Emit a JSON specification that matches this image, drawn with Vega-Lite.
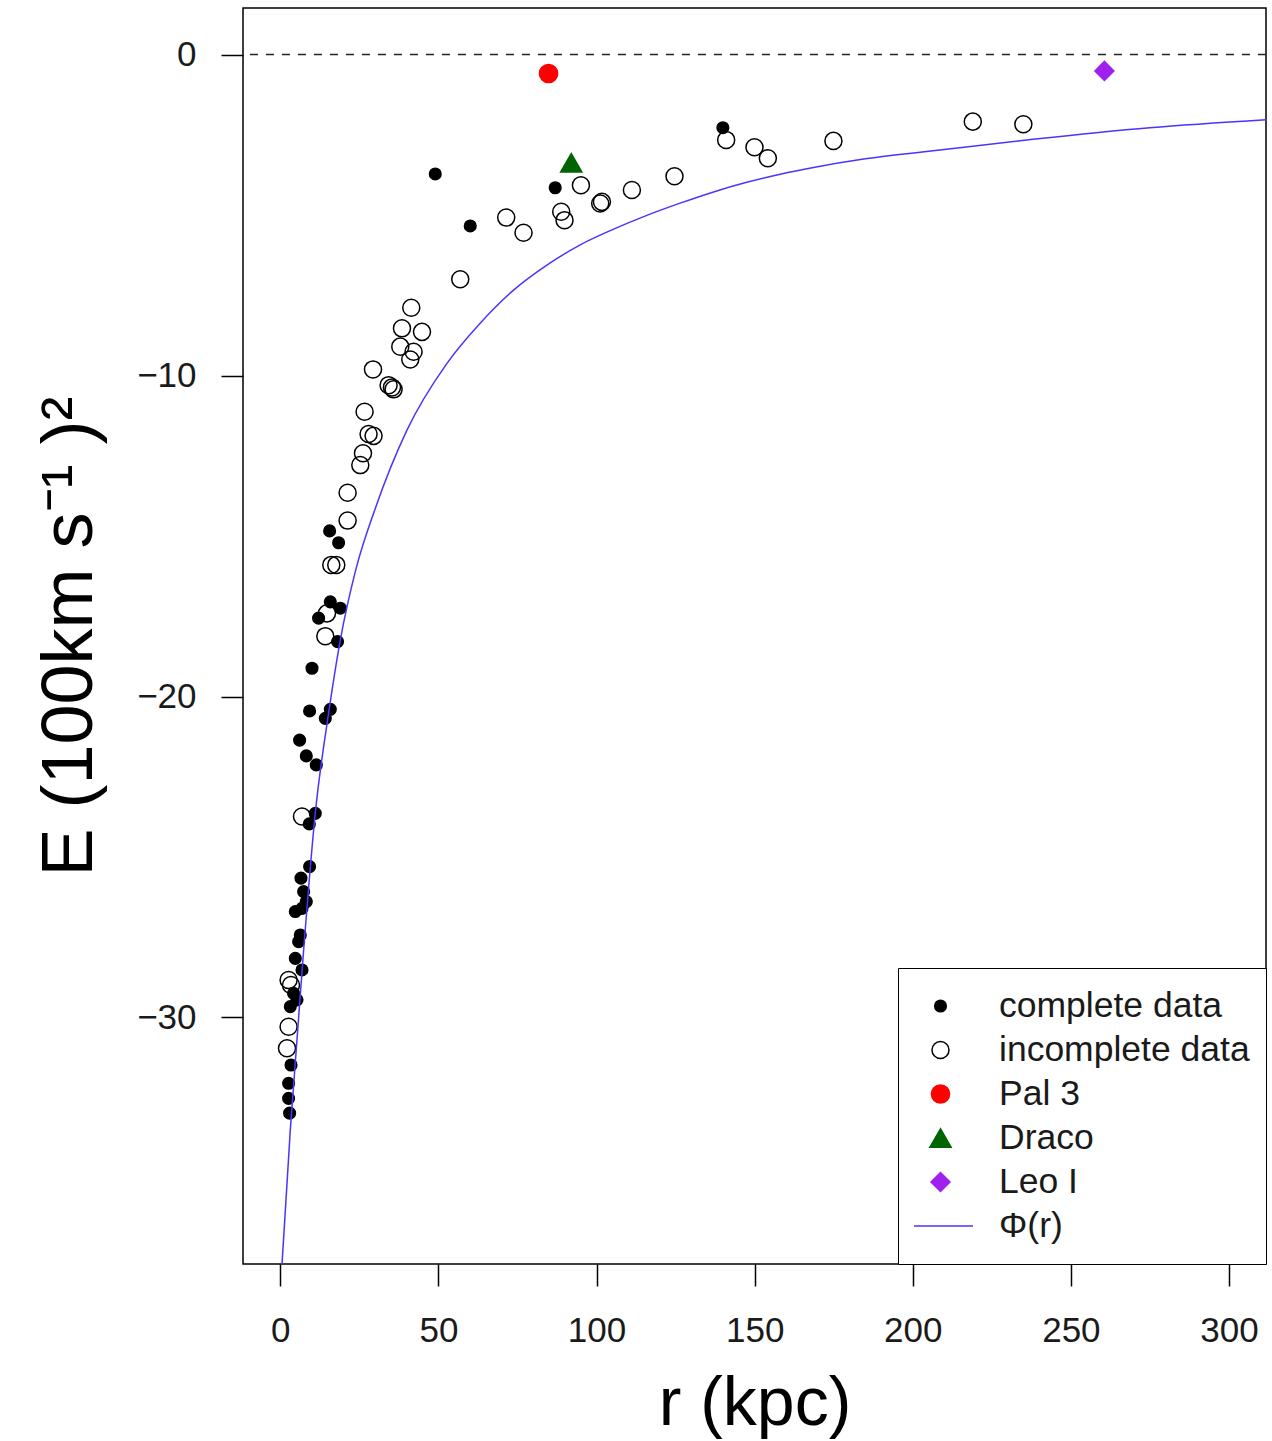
{
  "$schema": "https://vega.github.io/schema/vega-lite/v6.json",
  "autosize": "none",
  "width": 1023,
  "height": 1256,
  "padding": {"left": 243, "top": 8, "right": 6, "bottom": 177},
  "background": "white",
  "config": {
    "view": {"stroke": "black", "strokeWidth": 1.5},
    "font": "Liberation Sans",
    "axis": {
      "grid": false,
      "domain": false,
      "tickColor": "black",
      "tickWidth": 1.5,
      "tickSize": 22,
      "labelFont": "Liberation Sans",
      "labelFontSize": 35,
      "labelColor": "#1a1a1a",
      "titleFont": "Liberation Sans",
      "titleFontWeight": "normal",
      "titleColor": "black"
    }
  },
  "datasets": {
    "points": [
      {"r": 15.59, "E": -14.84, "type": "complete data"},
      {"r": 18.43, "E": -15.21, "type": "complete data"},
      {"r": 15.81, "E": -17.05, "type": "complete data"},
      {"r": 18.97, "E": -17.25, "type": "complete data"},
      {"r": 12.11, "E": -17.56, "type": "complete data"},
      {"r": 18.11, "E": -18.29, "type": "complete data"},
      {"r": 10.02, "E": -19.12, "type": "complete data"},
      {"r": 9.26, "E": -20.45, "type": "complete data"},
      {"r": 15.81, "E": -20.40, "type": "complete data"},
      {"r": 14.23, "E": -20.68, "type": "complete data"},
      {"r": 6.10, "E": -21.36, "type": "complete data"},
      {"r": 8.22, "E": -21.85, "type": "complete data"},
      {"r": 11.38, "E": -22.13, "type": "complete data"},
      {"r": 11.06, "E": -23.64, "type": "complete data"},
      {"r": 9.17, "E": -23.97, "type": "complete data"},
      {"r": 9.26, "E": -25.30, "type": "complete data"},
      {"r": 6.54, "E": -25.66, "type": "complete data"},
      {"r": 7.37, "E": -26.08, "type": "complete data"},
      {"r": 8.22, "E": -26.39, "type": "complete data"},
      {"r": 4.74, "E": -26.70, "type": "complete data"},
      {"r": 6.86, "E": -26.60, "type": "complete data"},
      {"r": 6.32, "E": -27.43, "type": "complete data"},
      {"r": 5.79, "E": -27.64, "type": "complete data"},
      {"r": 4.74, "E": -28.16, "type": "complete data"},
      {"r": 6.86, "E": -28.52, "type": "complete data"},
      {"r": 4.20, "E": -29.25, "type": "complete data"},
      {"r": 5.28, "E": -29.45, "type": "complete data"},
      {"r": 3.16, "E": -29.66, "type": "complete data"},
      {"r": 3.38, "E": -31.48, "type": "complete data"},
      {"r": 2.62, "E": -32.05, "type": "complete data"},
      {"r": 2.62, "E": -32.52, "type": "complete data"},
      {"r": 2.94, "E": -32.98, "type": "complete data"},
      {"r": 49.0, "E": -3.72, "type": "complete data"},
      {"r": 60.06, "E": -5.34, "type": "complete data"},
      {"r": 86.93, "E": -4.15, "type": "complete data"},
      {"r": 139.95, "E": -2.28, "type": "complete data"},
      {"r": 21.28, "E": -14.52, "type": "incomplete data"},
      {"r": 21.28, "E": -13.65, "type": "incomplete data"},
      {"r": 16.12, "E": -15.90, "type": "incomplete data"},
      {"r": 17.70, "E": -15.90, "type": "incomplete data"},
      {"r": 14.76, "E": -17.41, "type": "incomplete data"},
      {"r": 14.23, "E": -18.12, "type": "incomplete data"},
      {"r": 6.86, "E": -23.74, "type": "incomplete data"},
      {"r": 2.62, "E": -28.83, "type": "incomplete data"},
      {"r": 3.38, "E": -28.99, "type": "incomplete data"},
      {"r": 2.62, "E": -30.29, "type": "incomplete data"},
      {"r": 2.12, "E": -30.96, "type": "incomplete data"},
      {"r": 56.90, "E": -7.00, "type": "incomplete data"},
      {"r": 41.41, "E": -7.89, "type": "incomplete data"},
      {"r": 38.47, "E": -8.53, "type": "incomplete data"},
      {"r": 44.80, "E": -8.64, "type": "incomplete data"},
      {"r": 37.94, "E": -9.10, "type": "incomplete data"},
      {"r": 42.14, "E": -9.26, "type": "incomplete data"},
      {"r": 41.10, "E": -9.50, "type": "incomplete data"},
      {"r": 29.31, "E": -9.81, "type": "incomplete data"},
      {"r": 34.24, "E": -10.30, "type": "incomplete data"},
      {"r": 35.31, "E": -10.37, "type": "incomplete data"},
      {"r": 35.82, "E": -10.43, "type": "incomplete data"},
      {"r": 26.65, "E": -11.13, "type": "incomplete data"},
      {"r": 27.91, "E": -11.82, "type": "incomplete data"},
      {"r": 29.49, "E": -11.88, "type": "incomplete data"},
      {"r": 26.14, "E": -12.42, "type": "incomplete data"},
      {"r": 25.29, "E": -12.79, "type": "incomplete data"},
      {"r": 95.06, "E": -4.07, "type": "incomplete data"},
      {"r": 71.44, "E": -5.08, "type": "incomplete data"},
      {"r": 76.91, "E": -5.55, "type": "incomplete data"},
      {"r": 88.83, "E": -4.90, "type": "incomplete data"},
      {"r": 89.88, "E": -5.16, "type": "incomplete data"},
      {"r": 101.16, "E": -4.64, "type": "incomplete data"},
      {"r": 101.70, "E": -4.59, "type": "incomplete data"},
      {"r": 111.18, "E": -4.22, "type": "incomplete data"},
      {"r": 124.65, "E": -3.79, "type": "incomplete data"},
      {"r": 140.99, "E": -2.66, "type": "incomplete data"},
      {"r": 149.94, "E": -2.89, "type": "incomplete data"},
      {"r": 154.17, "E": -3.23, "type": "incomplete data"},
      {"r": 174.91, "E": -2.69, "type": "incomplete data"},
      {"r": 218.98, "E": -2.09, "type": "incomplete data"},
      {"r": 234.97, "E": -2.17, "type": "incomplete data"},
      {"r": 84.82, "E": -0.59, "type": "Pal 3"},
      {"r": 92.0, "E": -3.37, "type": "Draco"},
      {"r": 260.6, "E": -0.51, "type": "Leo I"}
    ],
    "curve": [
      {"r": 0.54, "E": -37.68, "type": "Φ(r)"},
      {"r": 3.16, "E": -33.5, "type": "Φ(r)"},
      {"r": 7.37, "E": -27.9, "type": "Φ(r)"},
      {"r": 11.06, "E": -23.63, "type": "Φ(r)"},
      {"r": 15.27, "E": -20.52, "type": "Φ(r)"},
      {"r": 18.97, "E": -18.24, "type": "Φ(r)"},
      {"r": 24.0, "E": -16.0, "type": "Φ(r)"},
      {"r": 30.03, "E": -14.14, "type": "Φ(r)"},
      {"r": 40.05, "E": -11.70, "type": "Φ(r)"},
      {"r": 52.7, "E": -9.62, "type": "Φ(r)"},
      {"r": 63.2, "E": -8.37, "type": "Φ(r)"},
      {"r": 73.75, "E": -7.34, "type": "Φ(r)"},
      {"r": 84.3, "E": -6.56, "type": "Φ(r)"},
      {"r": 94.84, "E": -5.93, "type": "Φ(r)"},
      {"r": 105.4, "E": -5.44, "type": "Φ(r)"},
      {"r": 115.9, "E": -5.01, "type": "Φ(r)"},
      {"r": 126.45, "E": -4.63, "type": "Φ(r)"},
      {"r": 137.0, "E": -4.28, "type": "Φ(r)"},
      {"r": 147.5, "E": -3.98, "type": "Φ(r)"},
      {"r": 158.1, "E": -3.73, "type": "Φ(r)"},
      {"r": 168.6, "E": -3.52, "type": "Φ(r)"},
      {"r": 185.0, "E": -3.25, "type": "Φ(r)"},
      {"r": 206.4, "E": -3.0, "type": "Φ(r)"},
      {"r": 238.0, "E": -2.64, "type": "Φ(r)"},
      {"r": 275.0, "E": -2.28, "type": "Φ(r)"},
      {"r": 311.7, "E": -2.03, "type": "Φ(r)"}
    ]
  },
  "layer": [
    {
      "data": {"values": [{"E": 0}]},
      "mark": {"type": "rule", "stroke": "#222222", "strokeWidth": 1.6, "strokeDash": [8, 8]},
      "encoding": {"y": {"field": "E", "type": "quantitative"}}
    },
    {
      "data": {"name": "points"},
      "mark": {"type": "point", "opacity": 1, "strokeWidth": 1.5},
      "encoding": {
        "x": {
          "field": "r", "type": "quantitative",
          "scale": {"domain": [-11.8, 311.7], "nice": false, "zero": false},
          "axis": {"values": [0, 50, 100, 150, 200, 250, 300], "title": "r (kpc)", "titleFontSize": 68, "labelPadding": 27, "titlePadding": 22}
        },
        "y": {
          "field": "E", "type": "quantitative",
          "scale": {"domain": [-37.68, 1.45], "nice": false, "zero": false},
          "axis": {"values": [-30, -20, -10, 0], "title": "E (100km s⁻¹ )²", "titleFontSize": 72, "labelPadding": 25, "titlePadding": 30}
        },
        "shape": {
          "field": "type", "type": "nominal",
          "scale": {"domain": ["complete data", "incomplete data", "Pal 3", "Draco", "Leo I", "Φ(r)"], "range": ["circle", "circle", "circle", "triangle-up", "diamond", "stroke"]},
          "legend": {
            "title": null,
            "orient": "bottom-right",
            "offset": 0,
            "padding": 16,
            "strokeColor": "black",
            "fillColor": "white",
            "labelFont": "Liberation Sans",
            "labelFontSize": 35.5,
            "labelLimit": 500,
            "labelColor": "#1a1a1a",
            "labelOffset": 25,
            "symbolOffset": -7,
            "clipHeight": 44,
            "rowPadding": 0,
            "symbolStrokeWidth": 1.5,
            "symbolOpacity": 1
          }
        },
        "stroke": {
          "field": "type", "type": "nominal",
          "scale": {"domain": ["complete data", "incomplete data", "Pal 3", "Draco", "Leo I", "Φ(r)"], "range": ["black", "black", "#ff0000", "#006400", "#a020f0", "#4a34ff"]}
        },
        "fill": {
          "field": "type", "type": "nominal",
          "scale": {"domain": ["complete data", "incomplete data", "Pal 3", "Draco", "Leo I", "Φ(r)"], "range": ["black", "transparent", "#ff0000", "#006400", "#a020f0", "transparent"]}
        },
        "size": {
          "field": "type", "type": "nominal",
          "scale": {"type": "ordinal", "domain": ["complete data", "incomplete data", "Pal 3", "Draco", "Leo I", "Φ(r)"], "range": [135, 290, 330, 450, 361, 4225]}
        }
      }
    },
    {
      "data": {"name": "curve"},
      "mark": {"type": "line", "strokeWidth": 1.5, "interpolate": "monotone", "clip": true},
      "encoding": {
        "x": {"field": "r", "type": "quantitative"},
        "y": {"field": "E", "type": "quantitative"},
        "stroke": {"field": "type", "type": "nominal"}
      }
    }
  ]
}
